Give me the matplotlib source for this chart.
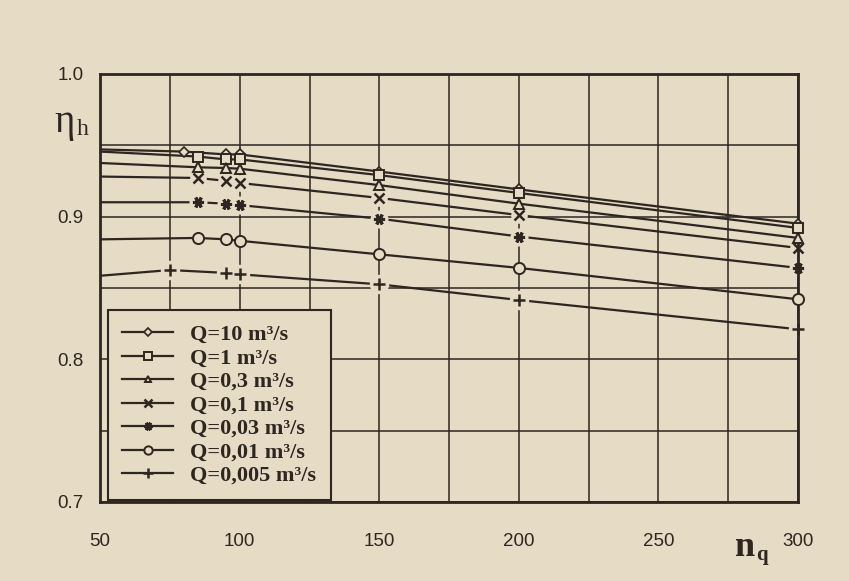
import numpy as np
import matplotlib.pyplot as plt
from matplotlib.lines import Line2D

paper = '#e6dbc4'
ink = '#2e2620'

# n_q positions of the points on each curve (first value is the start at the axis)
x_main = [50, 85, 95, 100, 150, 200, 300]
x_q10 = [50, 80, 95, 100, 150, 200, 300]
x_q0005 = [50, 75, 95, 100, 150, 200, 300]

eta_q10 = [0.947, 0.9455, 0.9435, 0.9435, 0.9315, 0.919, 0.895]
eta_q1 = [0.9455, 0.942, 0.940, 0.940, 0.929, 0.9165, 0.892]
eta_q03 = [0.9375, 0.9345, 0.934, 0.9335, 0.922, 0.909, 0.885]
eta_q01 = [0.928, 0.927, 0.925, 0.9235, 0.913, 0.901, 0.878]
eta_q003 = [0.910, 0.910, 0.909, 0.908, 0.8985, 0.886, 0.864]
eta_q001 = [0.884, 0.885, 0.884, 0.883, 0.8735, 0.864, 0.842]
eta_q0005 = [0.8585, 0.8625, 0.8605, 0.8595, 0.8525, 0.8415, 0.821]

labels = ['Q=10 m³/s', 'Q=1 m³/s', 'Q=0,3 m³/s', 'Q=0,1 m³/s',
          'Q=0,03 m³/s', 'Q=0,01 m³/s', 'Q=0,005 m³/s']

series = [
    (x_q10, eta_q10, 'D', 5, 1.2, False),
    (x_main, eta_q1, 's', 7, 1.4, False),
    (x_main, eta_q03, '^', 6.5, 1.4, False),
    (x_main, eta_q01, 'x', 7, 1.8, True),
    (x_main, eta_q003, (6, 2, 90), 8, 2.2, True),
    (x_main, eta_q001, 'o', 8, 1.4, False),
    (x_q0005, eta_q0005, '+', 9, 1.8, True),
]

fig = plt.figure(figsize=(8.49, 5.81), dpi=100, facecolor=paper)
ax = fig.add_axes([0.118, 0.136, 0.822, 0.737])
ax.set_facecolor(paper)

handles = []
for (xs, ys, mk, ms, mew, gap), lab in zip(series, labels):
    ax.plot(xs, ys, color=ink, lw=1.6, zorder=2, solid_capstyle='round')
    if gap:
        # blank out the curve around open markers like x and +
        ax.plot(xs[1:], ys[1:], ls='none', marker='o', ms=ms + 5,
                mfc=paper, mec='none', zorder=2.5, clip_on=False)
    ax.plot(xs[1:], ys[1:], ls='none', marker=mk, ms=ms, mfc=paper,
            mec=ink, mew=mew, zorder=3, clip_on=False)
    handles.append(Line2D([], [], color=ink, lw=1.6, marker=mk,
                          ms=ms * 0.75, mfc=paper, mec=ink, mew=mew))

ax.set_xlim(50, 300)
ax.set_ylim(0.7, 1.0)
ax.set_xticks(np.arange(50, 301, 50))
ax.set_xticks(np.arange(50, 301, 25), minor=True)
ax.set_yticks([0.7, 0.8, 0.9, 1.0])
ax.set_yticks(np.arange(0.7, 1.001, 0.05), minor=True)
ax.set_yticklabels(['0.7', '0.8', '0.9', '1.0'])
ax.grid(which='both', color=ink, lw=1.1, zorder=0.5)
ax.set_axisbelow(True)
ax.tick_params(which='both', length=0, colors=ink, labelsize=13.5)
ax.tick_params(axis='x', pad=22)
ax.tick_params(axis='y', pad=12)
for lab in ax.get_xticklabels() + ax.get_yticklabels():
    lab.set_fontfamily('Liberation Sans')
for sp in ax.spines.values():
    sp.set_color(ink)
    sp.set_linewidth(2)

# axis titles in book style
fig.text(0.064, 0.772, 'η', family='Liberation Serif', fontsize=28, color=ink)
fig.text(0.090, 0.768, 'h', family='Liberation Serif', fontsize=17, color=ink)
fig.text(0.866, 0.043, 'n', family='Liberation Serif', fontsize=26,
         weight='bold', color=ink)
fig.text(0.891, 0.036, 'q', family='Liberation Serif', fontsize=15,
         weight='bold', color=ink)

leg = ax.legend(handles, labels, loc='lower left', bbox_to_anchor=(0.011, 0.004),
                borderaxespad=0, frameon=True, fancybox=False,
                handlelength=2.3, labelspacing=0.13, handletextpad=0.75,
                borderpad=0.65,
                prop={'family': 'Liberation Serif', 'weight': 'bold', 'size': 16})
leg.get_frame().set_facecolor(paper)
leg.get_frame().set_edgecolor(ink)
leg.get_frame().set_linewidth(1.5)
leg.get_frame().set_alpha(1)
for t in leg.get_texts():
    t.set_color(ink)
leg.set_zorder(5)

fig.savefig('out.png', dpi=100, facecolor=paper)
